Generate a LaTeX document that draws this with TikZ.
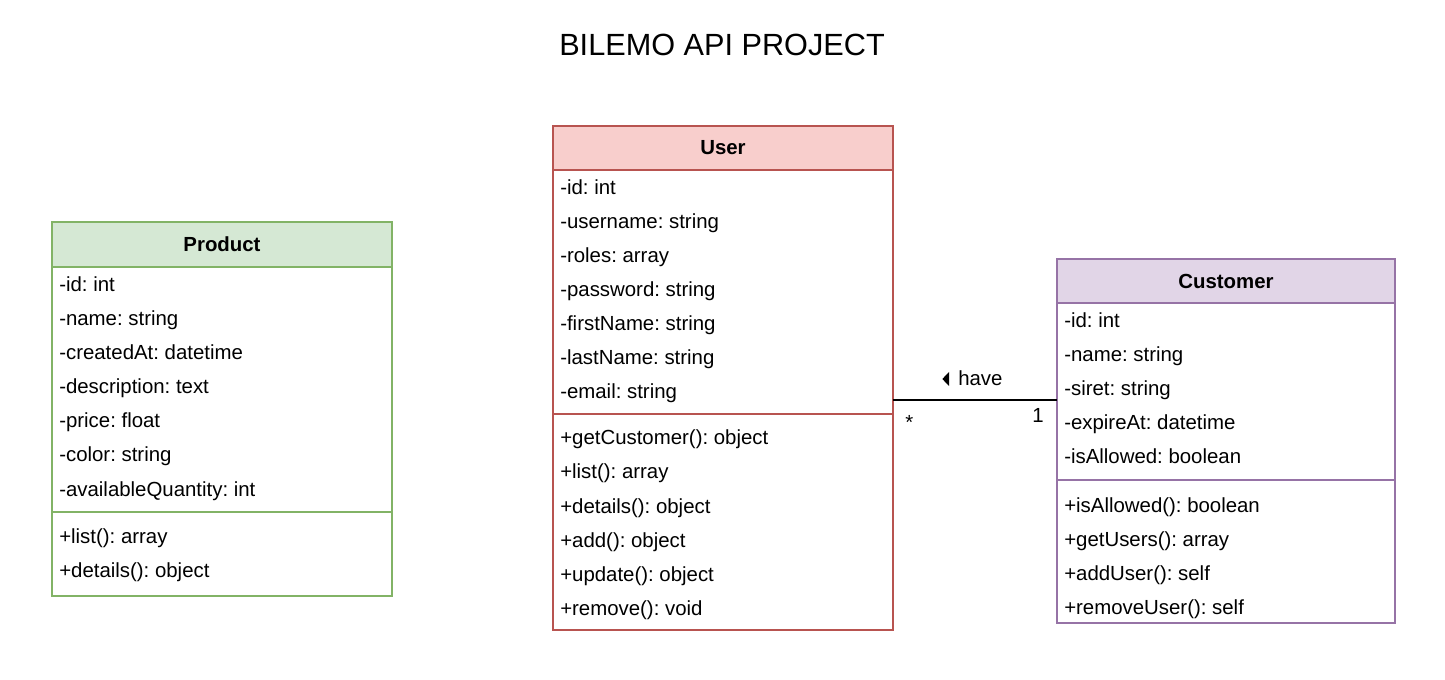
\documentclass[tikz,border=0pt]{standalone}
\usepackage{fontspec}
\setmainfont{Liberation Sans}
\frenchspacing
\definecolor{prodfill}{HTML}{D5E8D4}
\definecolor{prodline}{HTML}{82B366}
\definecolor{userfill}{HTML}{F8CECC}
\definecolor{userline}{HTML}{B85450}
\definecolor{custfill}{HTML}{E1D5E7}
\definecolor{custline}{HTML}{9673A6}
\tikzset{
  classhead/.style={draw, line width=1.1pt, outer sep=0pt, inner sep=0pt, font=\fontsize{15.3}{18}\selectfont\bfseries},
  classbody/.style={draw, line width=1.1pt, outer sep=0pt, anchor=north},
  row/.style={anchor=base west, inner sep=0pt, font=\fontsize{15.3}{18}\selectfont},
}
\begin{document}
\begin{tikzpicture}[x=0.75pt,y=-0.75pt]
                \useasboundingbox (0,0) rectangle (1445,680);
                \node[anchor=base, font=\fontsize{23}{28}\selectfont] (title) at (722,56) {BILEMO API PROJECT};
                % Product
                \node[classhead, fill=prodfill, draw=prodline, minimum width=255pt, minimum height=33.75pt] (product) at (222,244.5) {Product};
                \node[classbody, draw=prodline, minimum width=255pt, minimum height=246.75pt] (prodbody) at (product.south) {};
                \draw[prodline, line width=1.1pt] (prodbody.west |- 0,512) -- (prodbody.east |- 0,512);
                \foreach \t [count=\i from 0] in {-id: int,-name: string,-createdAt: datetime,-description: text,-price: float,-color: string,-availableQuantity: int}
                    \node[row] (p-a\i) at (59,292+34*\i) {\t};
                \foreach \t [count=\i from 0] in {+list(): array,+details(): object}
                    \node[row] (p-m\i) at (59,543+34*\i) {\t};
                % User
                \node[classhead, fill=userfill, draw=userline, minimum width=255pt, minimum height=33pt] (user) at (723,148) {User};
                \node[classbody, draw=userline, minimum width=255pt, minimum height=345pt] (userbody) at (user.south) {};
                \draw[userline, line width=1.1pt] (userbody.west |- 0,414) -- (userbody.east |- 0,414);
                \foreach \t [count=\i from 0] in {-id: int,-username: string,-roles: array,-password: string,-firstName: string,-lastName: string,-email: string}
                    \node[row] (u-a\i) at (560,195+34*\i) {\t};
                \foreach \t [count=\i from 0] in {+getCustomer(): object,+list(): array,+details(): object,+add(): object,+update(): object,+remove(): void}
                    \node[row] (u-m\i) at (560,445+34*\i) {\t};
                % Customer
                \node[classhead, fill=custfill, draw=custline, minimum width=253.5pt, minimum height=33pt] (customer) at (1226,281) {Customer};
                \node[classbody, draw=custline, minimum width=253.5pt, minimum height=240pt] (custbody) at (customer.south) {};
                \draw[custline, line width=1.1pt] (custbody.west |- 0,480) -- (custbody.east |- 0,480);
                \foreach \t [count=\i from 0] in {-id: int,-name: string,-siret: string,-expireAt: datetime,-isAllowed: boolean}
                    \node[row] (c-a\i) at (1064,328+34*\i) {\t};
                \foreach \t [count=\i from 0] in {+isAllowed(): boolean,+getUsers(): array,+addUser(): self,+removeUser(): self}
                    \node[row] (c-m\i) at (1064,512+34*\i) {\t};
                % association
                \draw[line width=1.1pt] (userbody.east) -- (userbody.east -| custbody.west);
                \node[row] (have) at (958,386) {have};
                \fill ([xshift=-6.75pt]have.base west) -- ++(-5pt,5.25pt) -- ++(5pt,5.25pt) -- cycle;
                \node[row] (many) at (905,430) {*};
                \node[row, anchor=base east] (one) at (1044,423) {1};
            \end{tikzpicture}
\end{document}
